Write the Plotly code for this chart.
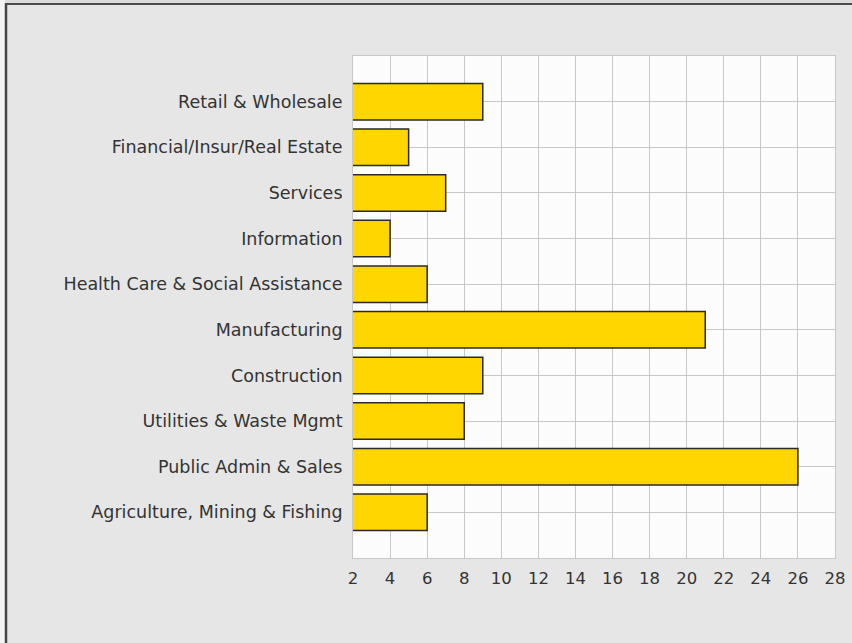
import plotly.graph_objects as go

categories = [
    "Agriculture, Mining & Fishing",
    "Public Admin & Sales",
    "Utilities & Waste Mgmt",
    "Construction",
    "Manufacturing",
    "Health Care & Social Assistance",
    "Information",
    "Services",
    "Financial/Insur/Real Estate",
    "Retail & Wholesale",
]
values = [6, 26, 8, 9, 21, 6, 4, 7, 5, 9]
x_ticks = list(range(2, 29, 2))

W, H = 852, 643
L, R, T, B = 353, 17, 56, 85

fig = go.Figure(go.Bar(
    x=values, y=categories, orientation="h",
    marker=dict(color="#FFD600", line=dict(color="#2a2a2a", width=1.5)),
    width=0.8,
))

fig.update_layout(
    width=W, height=H,
    autosize=False,
    margin=dict(l=L, r=R, t=T, b=B),
    paper_bgcolor="#e6e6e6",
    plot_bgcolor="#fcfcfc",
    showlegend=False,
    font=dict(family="DejaVu Sans", size=17, color="#333333"),
    xaxis=dict(
        range=[2, 28], tickvals=x_ticks, showgrid=True, gridcolor="#c8c8c8",
        gridwidth=1, zeroline=False, showline=True, linecolor="#c8c8c8",
        mirror=True, ticks="", ticklabelstandoff=5, automargin=False,
        tickfont=dict(size=16.5, color="#333333"),
    ),
    yaxis=dict(
        categoryorder="array", categoryarray=categories, range=[-1, 10],
        showgrid=True, gridcolor="#c8c8c8", gridwidth=1, zeroline=False,
        showline=True, linecolor="#c8c8c8", mirror=True, ticks="",
        ticklabelstandoff=6, automargin=False,
        tickfont=dict(size=17.5, color="#333333"),
    ),
    shapes=[
        # light strip above the frame
        dict(type="rect", xref="paper", yref="paper",
             xsizemode="pixel", ysizemode="pixel", xanchor=0, yanchor=1,
             x0=-(L + 10), x1=W, y0=T + 10, y1=T - 3,
             fillcolor="#dcdcdc", line=dict(width=0), layer="below"),
        # light strip left of the frame
        dict(type="rect", xref="paper", yref="paper",
             xsizemode="pixel", ysizemode="pixel", xanchor=0, yanchor=1,
             x0=-(L + 10), x1=-(L - 5), y0=T + 10, y1=-(H + 10),
             fillcolor="#f4f4f4", line=dict(width=0), layer="below"),
        # outer frame: left edge
        dict(type="line", xref="paper", yref="paper",
             xsizemode="pixel", ysizemode="pixel", xanchor=0, yanchor=1,
             x0=-(L - 6), x1=-(L - 6), y0=T - 3, y1=-(H + 10),
             line=dict(color="#444444", width=2.5)),
        # outer frame: top edge
        dict(type="line", xref="paper", yref="paper",
             xsizemode="pixel", ysizemode="pixel", xanchor=0, yanchor=1,
             x0=-(L - 5), x1=W + 20, y0=T - 4, y1=T - 4,
             line=dict(color="#4a4a4a", width=2)),
    ],
)

fig.write_html(
    "out.html",
    config={"responsive": False, "displayModeBar": False},
    post_script="document.body.style.margin='0';document.body.style.overflow='hidden';",
)
